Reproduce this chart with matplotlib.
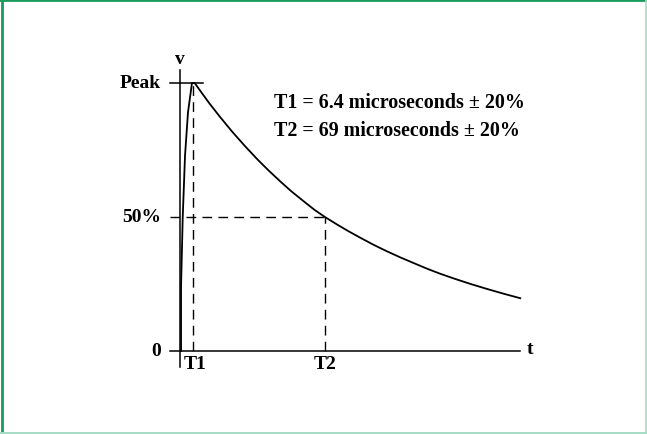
import matplotlib.pyplot as plt
from matplotlib.lines import Line2D

# waveform (t in microseconds, v in % of peak)
t_us = [0.5, 0.5, 1.3, 2.4, 3.8, 5.7, 7.0, 10, 14, 19, 25, 31, 37, 42, 48,
        53, 59, 64, 69, 75, 80, 86, 92, 98, 105, 111, 118, 124, 131, 138,
        146, 154, 162]
v_pct = [0, 24, 50, 73, 89, 100, 100, 96.7, 92.4, 87.4, 81.7, 76.4, 71.4,
         67.5, 63.1, 59.6, 55.8, 52.7, 50, 47.1, 44.8, 42.2, 39.7, 37.4,
         34.9, 32.9, 30.6, 28.8, 26.9, 25.1, 23.2, 21.4, 19.7]

T1 = 6.4
T2 = 69
t_end = 162
y_labels = ['Peak', '50%', '0']
y_levels = [100, 50, 0]
notes = ['T1 = 6.4 microseconds \u00b1 20%', 'T2 = 69 microseconds \u00b1 20%']

plt.rcParams['font.family'] = ['Liberation Serif', 'DejaVu Serif']

fig = plt.figure(figsize=(6.47, 4.35), dpi=100)
ax = fig.add_axes([0, 0, 1, 1])
ax.set_xlim(-180 / 2.1, (647 - 180) / 2.1)
ax.set_ylim(-83 / 2.68, (435 - 83) / 2.68)
ax.axis('off')

k = 'black'
# axes
ax.plot([-4.8, t_end], [0, 0], color=k, lw=1.1)
ax.plot([0, 0], [-6, 105], color=k, lw=1.1)
ax.plot([-5, 11], [100, 100], color=k, lw=1.1)

# guide lines
dash = dict(color=k, lw=1.0, dashes=(7, 4.5))
ax.plot([-5, T2], [50, 50], **dash)
ax.plot([T1, T1], [0, 100], **dash)
ax.plot([T2, T2], [0, 50], **dash)

# waveform
ax.plot(t_us, v_pct, color=k, lw=1.3)

fs = 14
for lab, lv in zip(y_labels, y_levels):
    ax.text(-9, lv, lab, ha='right', va='center', fontsize=fs, fontweight='bold')
ax.text(0, 106, 'v', ha='center', va='bottom', fontsize=fs, fontweight='bold')
ax.text(t_end + 3, 0.8, 't', ha='left', va='center', fontsize=fs, fontweight='bold')
ax.text(T1 + 1, -1.5, 'T1', ha='center', va='top', fontsize=fs, fontweight='bold')
ax.text(T2, -1.5, 'T2', ha='center', va='top', fontsize=fs, fontweight='bold')
for i, s in enumerate(notes):
    ax.text(45, 93 - i * 10.5, s, ha='left', va='center', fontsize=14.4, fontweight='bold')

# frame around the picture
fig.add_artist(Line2D([0, 1], [0.997, 0.997], transform=fig.transFigure, color='#1a9a5c', lw=2.0))
fig.add_artist(Line2D([0.003, 0.003], [0, 1], transform=fig.transFigure, color='#1a9a5c', lw=2.0))
fig.add_artist(Line2D([0, 1], [0.003, 0.003], transform=fig.transFigure, color='#a6dcc6', lw=1.4))
fig.add_artist(Line2D([0.998, 0.998], [0, 1], transform=fig.transFigure, color='#a6dcc6', lw=1.2))

fig.savefig('out.png', dpi=100)
